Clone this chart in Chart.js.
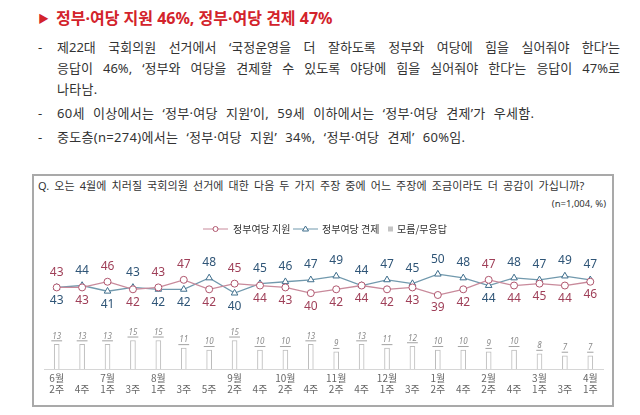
<!DOCTYPE html>
<html>
<head>
<meta charset="utf-8">
<script src="https://cdn.jsdelivr.net/npm/chart.js@4.4.1/dist/chart.umd.min.js"></script>
<style>
  body { margin: 0; width: 640px; height: 415px; background: #fff; position: relative; overflow: hidden;
         font-family: 'Noto Sans', 'Noto Sans CJK KR', sans-serif; color: #333; }
  .head { position: absolute; left: 38px; top: 5px; color: #d3232b; font-weight: bold; font-size: 16px; }
  .head .tri { font-size: 11px; margin-right: 7px; position: relative; top: -1px; }
  .txt { position: absolute; left: 38px; top: 37px; width: 582px; font-size: 13px; line-height: 20.8px; }
  .row { position: relative; padding-left: 19px; white-space: nowrap; letter-spacing: 0.3px; word-spacing: 4.5px; }
  .row.j { text-align: justify; text-align-last: justify; white-space: normal; letter-spacing: 0; word-spacing: 0; }
  .row.d:before { content: '-'; position: absolute; left: 0; }
  .gap { margin-top: 3.5px; }
  #box { position: absolute; left: 32px; top: 174px; width: 578px; height: 229px; border: 2px solid #a9a9a9; }
  .q { position: absolute; left: 4px; top: 1px; font-size: 11px; white-space: nowrap; letter-spacing: 0.1px; word-spacing: 2px; }
  .n { position: absolute; right: 6px; top: 21px; font-size: 9.5px; }
  canvas { position: absolute; left: 0; top: 0; }
</style>
</head>
<body>
<div class="head"><span class="tri">▶</span>정부·여당 지원 46%, 정부·여당 견제 47%</div>
<div class="txt">
  <div class="row j d">제22대 국회의원 선거에서 ‘국정운영을 더 잘하도록 정부와 여당에 힘을 실어줘야 한다’는</div>
  <div class="row j">응답이 46%, ‘정부와 여당을 견제할 수 있도록 야당에 힘을 실어줘야 한다’는 응답이 47%로</div>
  <div class="row">나타남.</div>
  <div class="row d gap">60세 이상에서는 ‘정부·여당 지원’이, 59세 이하에서는 ‘정부·여당 견제’가 우세함.</div>
  <div class="row d gap">중도층(n=274)에서는 ‘정부·여당 지원’ 34%, ‘정부·여당 견제’ 60%임.</div>
</div>
<div id="box">
  <div class="q">Q. 오는 4월에 치러질 국회의원 선거에 대한 다음 두 가지 주장 중에 어느 주장에 조금이라도 더 공감이 가십니까?</div>
  <div class="n">(n=1,004, %)</div>
  <canvas id="myChart" width="578" height="229"></canvas>
</div>
<script>
const months = ['6월', '', '7월', '', '8월', '', '', '9월', '', '10월', '', '11월', '', '12월', '', '1월', '', '2월', '', '3월', '', '4월'];
const weeks = ['2주', '4주', '1주', '3주', '1주', '3주', '5주', '2주', '4주', '2주', '4주', '2주', '4주', '1주', '3주', '2주', '4주', '2주', '4주', '1주', '3주', '1주'];
const support = [43, 43, 46, 42, 43, 47, 42, 45, 44, 43, 40, 42, 44, 42, 43, 39, 42, 47, 44, 45, 44, 46];
const oppose = [43, 44, 41, 43, 42, 42, 48, 40, 45, 46, 47, 49, 44, 47, 45, 50, 48, 44, 48, 47, 49, 47];
const dontKnow = [13, 13, 13, 15, 15, 11, 10, 15, 10, 10, 13, 9, 13, 11, 12, 10, 10, 9, 10, 8, 7, 7];

const redLine = '#c88a9b';
const redMark = '#b0566e';
const redText = '#9f3f58';
const blueLine = '#7199ad';
const blueMark = '#3f6e8c';
const blueText = '#2f5577';

// value labels above / below the two lines, and small labels on the bars
const labelPlugin = {
  id: 'labels',
  afterDatasetsDraw(chart) {
    const ctx = chart.ctx;
    const supMeta = chart.getDatasetMeta(1);
    const oppMeta = chart.getDatasetMeta(2);
    const barMeta = chart.getDatasetMeta(0);
    ctx.save();
    ctx.textAlign = 'center';
    ctx.textBaseline = 'middle';
    ctx.font = '12px "Noto Sans", sans-serif';
    support.forEach((s, i) => {
      const o = oppose[i];
      let supUp = s > o;
      if (s === o) supUp = i === 0 ? true : support[i - 1] > oppose[i - 1];
      const sp = supMeta.data[i], op = oppMeta.data[i];
      ctx.fillStyle = redText;
      ctx.fillText(String(s), sp.x, supUp ? sp.y - 15 : sp.y + 13);
      ctx.fillStyle = blueText;
      ctx.fillText(String(o), op.x, supUp ? op.y + 13 : op.y - 15);
    });
    ctx.font = 'italic 8px "Noto Sans", sans-serif';
    ctx.fillStyle = '#8a8a8a';
    ctx.strokeStyle = '#8a8a8a';
    ctx.lineWidth = 0.8;
    dontKnow.forEach((v, i) => {
      const b = barMeta.data[i];
      const y = b.y - 8;
      ctx.fillText(String(v), b.x, y);
      const w = ctx.measureText(String(v)).width;
      ctx.beginPath();
      ctx.moveTo(b.x - w / 2 - 1, y + 4.5);
      ctx.lineTo(b.x + w / 2 + 1, y + 4.5);
      ctx.stroke();
    });
    ctx.restore();
  }
};

// legend: line with marker for the two lines, square for the bars
const legendPlugin = {
  id: 'myLegend',
  afterDraw(chart) {
    const ctx = chart.ctx;
    const y = 53;
    ctx.save();
    ctx.font = '10px "Noto Sans CJK KR", sans-serif';
    ctx.textBaseline = 'middle';
    ctx.fillStyle = '#333';
    ctx.lineWidth = 1;
    ctx.strokeStyle = redLine;
    ctx.beginPath(); ctx.moveTo(169, y); ctx.lineTo(194, y); ctx.stroke();
    ctx.strokeStyle = redMark;
    ctx.fillStyle = '#fff';
    ctx.beginPath(); ctx.arc(181.5, y, 2.5, 0, Math.PI * 2); ctx.fill(); ctx.stroke();
    ctx.fillStyle = '#333';
    ctx.fillText('정부여당 지원', 199, y);
    ctx.strokeStyle = blueLine;
    ctx.beginPath(); ctx.moveTo(259, y); ctx.lineTo(284, y); ctx.stroke();
    ctx.strokeStyle = blueMark;
    ctx.fillStyle = '#fff';
    ctx.beginPath(); ctx.moveTo(271.5, y - 3); ctx.lineTo(274.5, y + 2); ctx.lineTo(268.5, y + 2); ctx.closePath(); ctx.fill(); ctx.stroke();
    ctx.fillStyle = '#333';
    ctx.fillText('정부여당 견제', 288, y);
    ctx.fillStyle = '#c4c4c4';
    ctx.fillRect(354, y - 2.5, 5, 5);
    ctx.fillStyle = '#333';
    ctx.fillText('모름/무응답', 363, y);
    ctx.restore();
  }
};

const ctx = document.getElementById('myChart');
const myChart = new Chart(ctx, {
  type: 'bar',
  data: {
    labels: months.map((m, i) => [m, weeks[i]]),
    datasets: [{
      label: '모름/무응답',
      data: dontKnow,
      backgroundColor: '#fff',
      borderColor: '#bcbcbc',
      borderWidth: 1,
      barThickness: 5,
      order: 3
    }, {
      type: 'line',
      label: '정부여당 지원',
      data: support,
      borderColor: redLine,
      borderWidth: 1.3,
      pointStyle: 'circle',
      pointRadius: 3.5,
      pointBorderWidth: 1,
      pointBorderColor: redMark,
      pointBackgroundColor: '#fff',
      tension: 0,
      order: 1
    }, {
      type: 'line',
      label: '정부여당 견제',
      data: oppose,
      borderColor: blueLine,
      borderWidth: 1.3,
      pointStyle: 'triangle',
      pointRadius: 3.8,
      pointBorderWidth: 1,
      pointBorderColor: blueMark,
      pointBackgroundColor: '#fff',
      tension: 0,
      order: 2
    }]
  },
  options: {
    responsive: false,
    animation: false,
    layout: { padding: { left: 10, right: 9, top: 64, bottom: 0 } },
    plugins: {
      legend: { display: false },
      tooltip: { enabled: false }
    },
    scales: {
      x: {
        offset: true,
        grid: { display: false, drawTicks: false },
        border: { display: true, color: '#d6d6d6', width: 1 },
        ticks: {
          color: '#666',
          font: { size: 10, family: '"Noto Sans CJK KR", sans-serif', lineHeight: 1.1 },
          padding: 3.5,
          maxRotation: 0,
          autoSkip: false
        },
        afterFit(scale) { scale.height = 36; }
      },
      y: {
        display: false,
        min: 0,
        max: 68
      }
    }
  },
  plugins: [labelPlugin, legendPlugin]
});
</script>
</body>
</html>
